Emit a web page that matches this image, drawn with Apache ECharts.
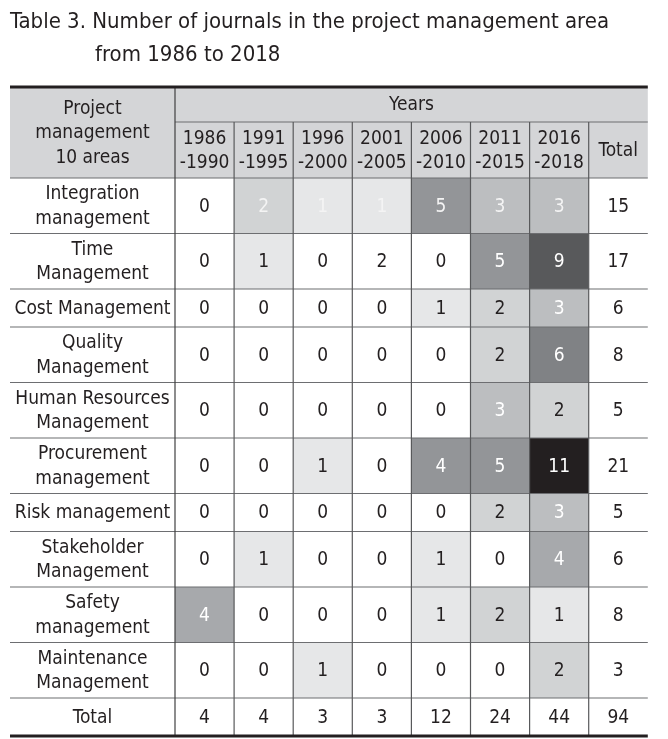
<!DOCTYPE html>
<html>
<head>
<meta charset="utf-8">
<script src="https://cdn.jsdelivr.net/npm/echarts@6/dist/echarts.min.js"></script>
<style>
html,body{margin:0;padding:0;background:#fff;}
#chart{width:668px;height:739px;}
</style>
</head>
<body>
<div id="chart"></div>
<script>
// ---------- DATA ----------
const titleLine1 = 'Table 3. Number of journals in the project management area';
const titleLine2 = 'from 1986 to 2018';
const cornerHeader = 'Project\nmanagement\n10 areas';
const yearsHeader = 'Years';
const periods = ['1986\n-1990', '1991\n-1995', '1996\n-2000', '2001\n-2005', '2006\n-2010', '2011\n-2015', '2016\n-2018'];
const totalHeader = 'Total';
const areas = [
  'Integration\nmanagement',
  'Time\nManagement',
  'Cost Management',
  'Quality\nManagement',
  'Human Resources\nManagement',
  'Procurement\nmanagement',
  'Risk management',
  'Stakeholder\nManagement',
  'Safety\nmanagement',
  'Maintenance\nManagement'
];
const integration = [0, 2, 1, 1, 5, 3, 3];
const time        = [0, 1, 0, 2, 0, 5, 9];
const cost        = [0, 0, 0, 0, 1, 2, 3];
const quality     = [0, 0, 0, 0, 0, 2, 6];
const human       = [0, 0, 0, 0, 0, 3, 2];
const procurement = [0, 0, 1, 0, 4, 5, 11];
const risk        = [0, 0, 0, 0, 0, 2, 3];
const stakeholder = [0, 1, 0, 0, 1, 0, 4];
const safety      = [4, 0, 0, 0, 1, 2, 1];
const maintenance = [0, 0, 1, 0, 0, 0, 2];
const rowTotals = [15, 17, 6, 8, 5, 21, 5, 6, 8, 3];
const totalLabel = 'Total';
const columnTotals = [4, 4, 3, 3, 12, 24, 44];
const grandTotal = 94;

// ---------- LAYOUT / STYLE ----------
const values = [integration, time, cost, quality, human, procurement, risk, stakeholder, safety, maintenance];
const FONT = '"DejaVu Sans Condensed","Liberation Sans Narrow",sans-serif';
const FS = 19;
const DARK = '#231f20';
const LINE = '#6d6e71';
const HEADER_BG = '#d4d5d7';
const shade = {0:'#ffffff',1:'#e6e7e8',2:'#d1d3d4',3:'#bcbec0',4:'#a7a9ac',5:'#939598',6:'#808285',7:'#6d6e71',8:'#636466',9:'#58595b',10:'#3a3a3c',11:'#231f20'};
// shading exceptions as printed in the source table: "row,col" -> fill
const shadeOverride = {'1,3':'#ffffff', '5,4':'#939598'};
function textColorFor(r, v, fill){
  if (fill === '#ffffff') return DARK;
  if (r === 0) return '#f4f4f4';
  return v >= 3 ? '#ffffff' : DARK;
}

const colW = [165].concat(new Array(8).fill(59.1));
const xE = [0]; colW.forEach(w => xE.push(xE[xE.length-1] + w));
const rowH = [35, 56].concat(areas.map(a => a.split('\n').length > 1 ? 55.5 : 38)).concat([38]);
const yE = [0]; rowH.forEach(h => yE.push(yE[yE.length-1] + h));
const nR = rowH.length;

const cells = [];
function addCell(c0, c1, r0, r1, text, fill, color) {
  cells.push({value:[xE[c0], yE[r0], xE[c1], yE[r1]], text:String(text), fill, color});
}
addCell(0, 1, 0, 2, cornerHeader, HEADER_BG, DARK);
addCell(1, 9, 0, 1, yearsHeader, HEADER_BG, DARK);
periods.forEach((p, i) => addCell(i+1, i+2, 1, 2, p, HEADER_BG, DARK));
addCell(8, 9, 1, 2, totalHeader, HEADER_BG, DARK);
areas.forEach((a, r) => {
  addCell(0, 1, r+2, r+3, a, '#ffffff', DARK);
  values[r].forEach((v, c) => {
    const key = r + ',' + c;
    const fill = shadeOverride[key] || shade[v] || '#ffffff';
    addCell(c+1, c+2, r+2, r+3, v, fill, textColorFor(r, v, fill));
  });
  addCell(8, 9, r+2, r+3, rowTotals[r], '#ffffff', DARK);
});
addCell(0, 1, nR-1, nR, totalLabel, '#ffffff', DARK);
columnTotals.forEach((v, c) => addCell(c+1, c+2, nR-1, nR, v, '#ffffff', DARK));
addCell(8, 9, nR-1, nR, grandTotal, '#ffffff', DARK);

const rules = [];
rules.push({value:[xE[1], yE[1], xE[9], yE[1]], w:1.2, color:LINE});
for (let r = 2; r < nR; r++) rules.push({value:[xE[0], yE[r], xE[9], yE[r]], w:1.2, color:LINE});
rules.push({value:[xE[1], yE[0], xE[1], yE[nR]], w:1.2, color:'#404041'});
for (let c = 2; c <= 8; c++) rules.push({value:[xE[c], yE[1], xE[c], yE[nR]], w:1.2, color:'#58595b'});
rules.push({value:[xE[0], yE[0], xE[9], yE[0]], w:3, color:DARK});
rules.push({value:[xE[0], yE[nR], xE[9], yE[nR]], w:3, color:DARK});

const chart = echarts.init(document.getElementById('chart'), null, {renderer:'canvas'});
chart.setOption({
  animation: false,
  backgroundColor: '#ffffff',
  title: [
    {text: titleLine1, left: 5, top: 6, textStyle:{fontFamily:FONT, fontSize:22, fontWeight:'normal', color:DARK}},
    {text: titleLine2, left: 90, top: 39, textStyle:{fontFamily:FONT, fontSize:22, fontWeight:'normal', color:DARK}}
  ],
  grid: {left: 10, top: 87, width: xE[9], height: yE[nR]},
  xAxis: {type:'value', min:0, max:xE[9], show:false},
  yAxis: {type:'value', min:0, max:yE[nR], inverse:true, show:false},
  series: [
    {
      type: 'custom',
      data: cells,
      renderItem: function(params, api) {
        const p0 = api.coord([api.value(0), api.value(1)]);
        const p1 = api.coord([api.value(2), api.value(3)]);
        const cell = cells[params.dataIndex];
        return {
          type: 'group',
          children: [
            {type:'rect', shape:{x:p0[0], y:p0[1], width:p1[0]-p0[0], height:p1[1]-p0[1]}, style:{fill:cell.fill}},
            {type:'text', x:(p0[0]+p1[0])/2, y:(p0[1]+p1[1])/2+1, style:{text:cell.text, align:'center', verticalAlign:'middle', fontFamily:FONT, fontSize:FS, lineHeight:24.5, fill:cell.color}}
          ]
        };
      }
    },
    {
      type: 'custom',
      data: rules,
      z: 5,
      renderItem: function(params, api) {
        const p0 = api.coord([api.value(0), api.value(1)]);
        const p1 = api.coord([api.value(2), api.value(3)]);
        const r = rules[params.dataIndex];
        return {type:'line', shape:{x1:p0[0], y1:p0[1], x2:p1[0], y2:p1[1]}, style:{stroke:r.color, lineWidth:r.w}};
      }
    }
  ]
});
</script>
</body>
</html>
